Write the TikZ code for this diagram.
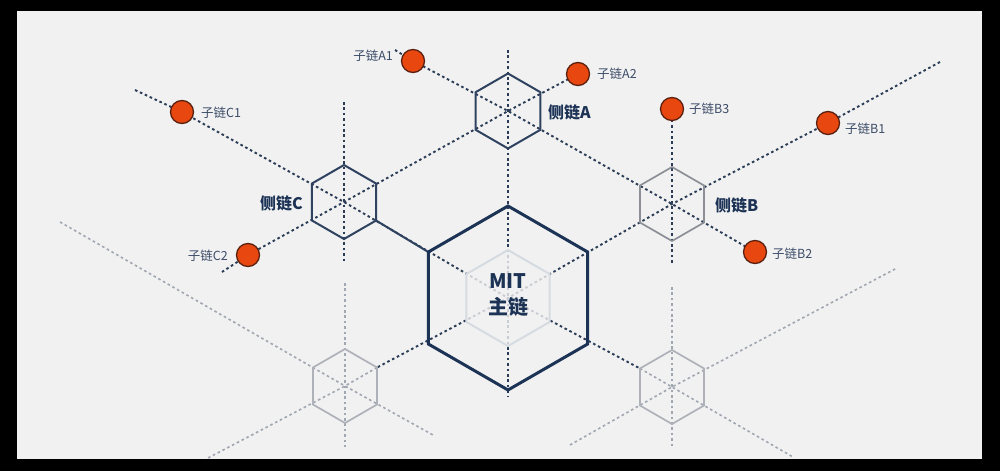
\documentclass[tikz,border=0pt]{standalone}
\usepackage{fontspec}
\setmainfont{Noto Sans CJK SC}
\usetikzlibrary{calc}
\definecolor{bg}{HTML}{F1F1F1}
\definecolor{navy}{HTML}{1C3356}
\definecolor{navyb}{HTML}{2F4260}
\definecolor{dashc}{HTML}{2B3C56}
\definecolor{ghostc}{HTML}{AEB2B8}
\definecolor{ghostd}{HTML}{A0A7B0}
\definecolor{bgray}{HTML}{8C9096}
\definecolor{innerc}{HTML}{D6DBE1}
\definecolor{dotfill}{HTML}{E8480F}
\definecolor{dotline}{HTML}{5A2010}
\definecolor{labc}{HTML}{3C4C68}
\newcommand\hexa[3][]{%
  \draw[#1] ($(#2)+(0,-#3)$) -- ($(#2)+({0.866*#3},{-0.5*#3})$) -- ($(#2)+({0.866*#3},{0.5*#3})$)
   -- ($(#2)+(0,#3)$) -- ($(#2)+({-0.866*#3},{0.5*#3})$) -- ($(#2)+({-0.866*#3},{-0.5*#3})$) -- cycle;}
\tikzset{
  darkdash/.style={draw=dashc, line width=1.9pt, dash pattern=on 2.6pt off 2.8pt},
  ghostdash/.style={draw=ghostd, line width=1.6pt, dash pattern=on 2.6pt off 2.8pt},
  dot/.style={circle, fill=dotfill, draw=dotline, line width=1.3pt, minimum size=23pt, inner sep=0pt},
  sublabel/.style={text=labc, font=\fontsize{12.5}{14}\selectfont, inner sep=0pt},
  sidelabel/.style={text=navy, font=\bfseries\fontsize{16}{18}\selectfont, inner sep=0pt},
}
\begin{document}
\begin{tikzpicture}[x=1pt,y=-1pt]
\fill[black] (0,0) rectangle (1000,471);
\fill[bg] (17,11) rectangle (982,459);
\useasboundingbox (0,0) rectangle (1000,471);
% centres
\coordinate (M) at (508,298);
\coordinate (A) at (508,111);
\coordinate (C) at (344,202);
\coordinate (B) at (672,204);
\coordinate (GL) at (345,386);
\coordinate (GR) at (672,387);
% line ends
\coordinate (a0) at (395,50);
\coordinate (vt) at (508,50);
\coordinate (vb) at (508,396);
\coordinate (c2end) at (222,272);
\coordinate (c0) at (135,90);
\coordinate (b0) at (940,62);
\coordinate (glend) at (208,458);
\coordinate (grend) at (793,457);
\coordinate (ctop) at (344,102);
\coordinate (cbot) at (344,262);
\coordinate (bbot) at (672,265);
\coordinate (gltop) at (345,283);
\coordinate (glbot) at (345,447);
\coordinate (g2s) at (60,222);
\coordinate (g2e) at (433,435);
\coordinate (grtop) at (672,287);
\coordinate (grbot) at (672,448);
\coordinate (g5s) at (570,445);
\coordinate (g5e) at (897,268);
\coordinate (GLv) at ($(GL)+(32,-18.5)$);
\coordinate (GRv) at ($(GR)+(-32,-18.5)$);
\coordinate (Cv) at ($(C)+(32,18.5)$);
\coordinate (Mv) at ($(M)+(-79.7,-46)$);
% dot positions
\path (413,61) coordinate (pA1) (578,74) coordinate (pA2)
      (182,112) coordinate (pC1) (248,255) coordinate (pC2)
      (672,109) coordinate (pB3) (828,123) coordinate (pB1) (755,252) coordinate (pB2);
% ghost lines
\draw[ghostdash] (gltop) -- (glbot);
\draw[ghostdash] (g2s) -- (GL) -- (g2e);
\draw[ghostdash] (GLv) -- (GL) -- (glend);
\draw[ghostdash] (grtop) -- (grbot);
\draw[ghostdash] (g5s) -- (GR) -- (g5e);
\draw[ghostdash] (GRv) -- (GR) -- (grend);
% dark lines
\draw[darkdash] (vt) -- (vb);
\draw[darkdash] (a0) -- (pA1) -- (A) -- (B) -- (pB2);
\draw[darkdash] (pA2) -- (A) -- (C) -- (pC2) -- (c2end);
\draw[darkdash] (c0) -- (pC1) -- (C) -- (M) -- (GRv);
\draw[darkdash] (b0) -- (pB1) -- (B) -- (M) -- (GLv);
\draw[darkdash] (ctop) -- (cbot);
\draw[darkdash] (pB3) -- (bbot);
\draw[navyb, line width=2pt] (Cv) -- (Mv);
% hexagons
\hexa[ghostc, line width=1.7pt]{GL}{37}
\hexa[ghostc, line width=1.7pt]{GR}{37}
\hexa[bgray, line width=1.7pt]{B}{37}
\hexa[navyb, line width=2pt]{A}{37.5}
\hexa[navyb, line width=2pt]{C}{37}
\hexa[navy, line width=3pt]{M}{92}
\hexa[innerc, line width=2pt, fill=bg, fill opacity=0.8]{M}{48}
% dots
\node[dot] (A1) at (pA1) {};
\node[dot] (A2) at (pA2) {};
\node[dot] (C1) at (pC1) {};
\node[dot] (C2) at (pC2) {};
\node[dot] (B3) at (pB3) {};
\node[dot] (B1) at (pB1) {};
\node[dot] (B2) at (pB2) {};
% labels
\node[sublabel, anchor=east] (lA1) at (393,56) {子链A1};
\node[sublabel, anchor=west] (lA2) at (597,74) {子链A2};
\node[sublabel, anchor=west] (lC1) at (201,113) {子链C1};
\node[sublabel, anchor=east] (lC2) at (228,256) {子链C2};
\node[sublabel, anchor=west] (lB3) at (689,109) {子链B3};
\node[sublabel, anchor=west] (lB1) at (845,129) {子链B1};
\node[sublabel, anchor=west] (lB2) at (772,254) {子链B2};
\node[sidelabel, anchor=west] (lA) at (548,112) {侧链A};
\node[sidelabel, anchor=east] (lC) at (303,203) {侧链C};
\node[sidelabel, anchor=west] (lB) at (715,205) {侧链B};
\node[text=navy, font=\bfseries\fontsize{20}{26}\selectfont, align=center, inner sep=0pt] (mit) at (508,295) {MIT\\主链};
\end{tikzpicture}
\end{document}
